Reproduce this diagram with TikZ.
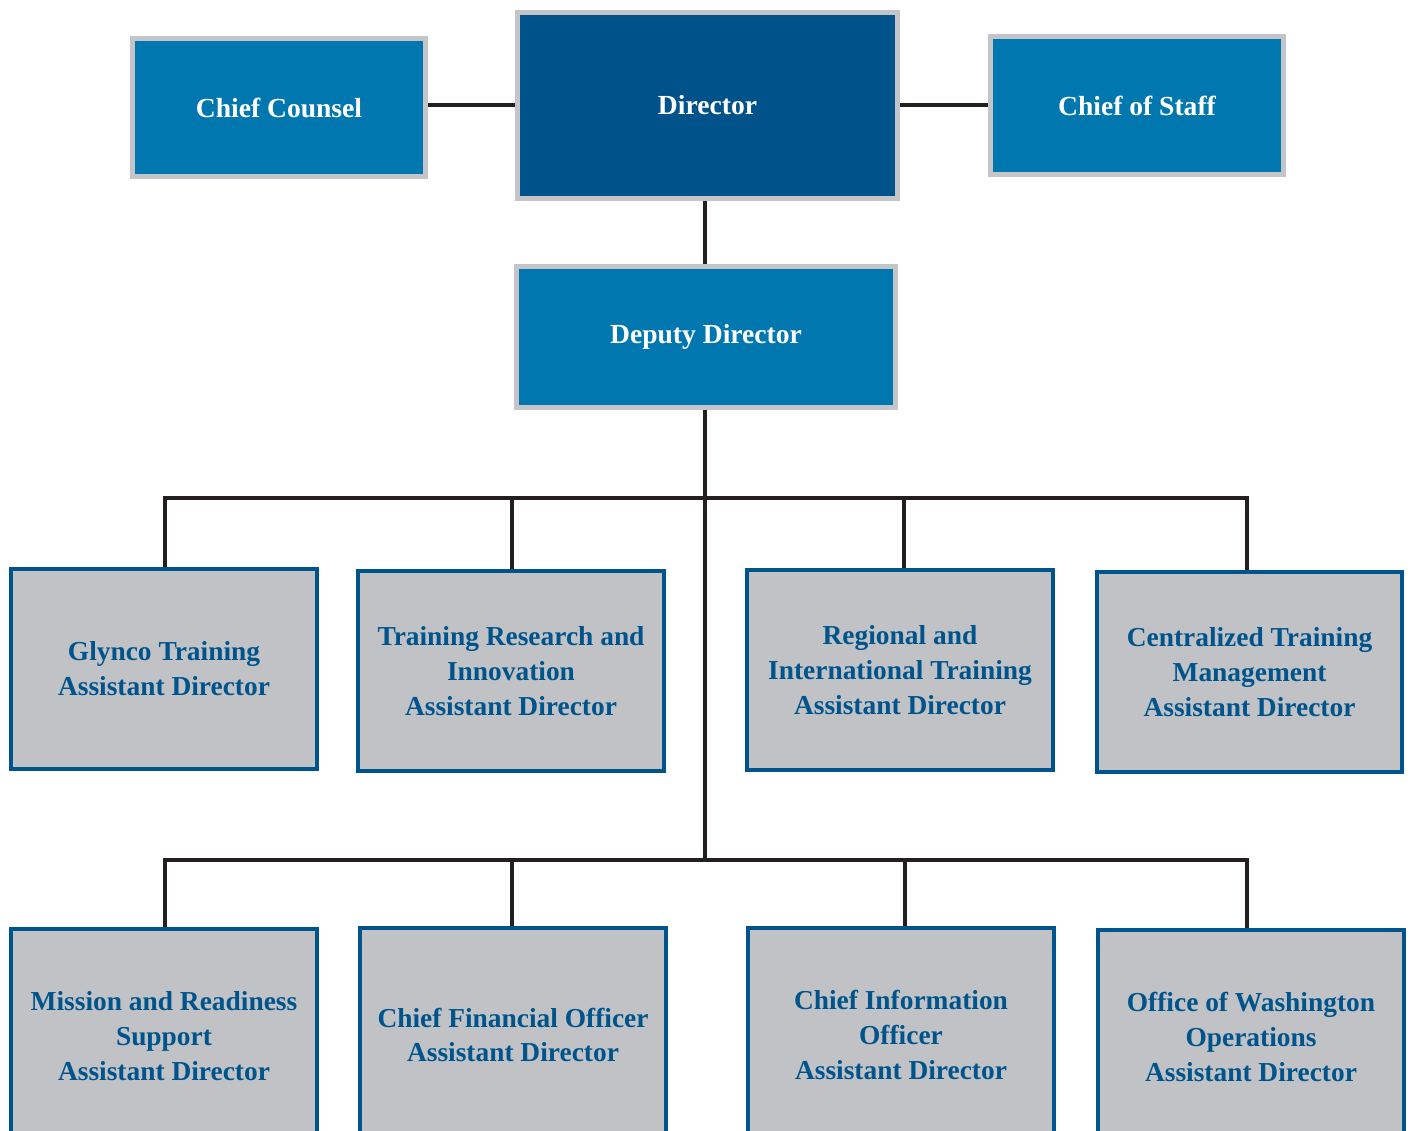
\documentclass[tikz,border=0pt]{standalone}
\usepackage{fontspec}
\setmainfont{Liberation Serif}
\usepackage{tikz}
\usetikzlibrary{calc}
\definecolor{topblue}{RGB}{0,119,174}
\definecolor{dirblue}{RGB}{0,82,138}
\definecolor{frame}{RGB}{196,197,201}
\definecolor{lowfill}{RGB}{193,194,198}
\definecolor{lowblue}{RGB}{0,84,140}
\definecolor{linecol}{RGB}{35,31,32}

\begin{document}
\begin{tikzpicture}[x=0.02cm, y=-0.02cm,
		topbox/.style={rectangle, draw=frame, line width=0.1cm, fill=topblue, text=white, font=\bfseries\fontsize{15.7}{20}\selectfont, align=center, minimum width=5.86cm, minimum height=2.76cm},
		lowbox/.style={rectangle, draw=lowblue, line width=0.08cm, fill=lowfill, text=lowblue, font=\bfseries\fontsize{15.6}{19.9}\selectfont, align=center, minimum width=6.12cm, minimum height=4cm},
		cutbox/.style={lowbox, minimum height=4.3cm},
		link/.style={draw=linecol, line width=0.08cm}]
		%%%%% START %%%%%
		
		\useasboundingbox (0, 0) rectangle (1411, 1131);
		\clip (0, 0) rectangle (1411, 1131);
		
		% top row
		\node[topbox] (counsel) at (279, 107.5) {Chief Counsel};
		\node[topbox, fill=dirblue, minimum width=7.6cm, minimum height=3.72cm] (director) at (707.5, 105.5) {Director};
		\node[topbox] (staff) at (1137, 105.5) {Chief of Staff};
		\node[topbox, minimum width=7.58cm, minimum height=2.82cm] (deputy) at (706, 337) {Deputy Director};
		
		\draw[link] (director.west |- 0, 105) -- (counsel.east |- 0, 105);
		\draw[link] (director.east |- 0, 105) -- (staff.west |- 0, 105);
		\draw[link] (705, 0 |- director.south) -- (705, 0 |- deputy.north);
		
		% assistant directors, first row
		\node[lowbox] (glynco) at (164, 669) {Glynco Training\\Assistant Director};
		\node[lowbox] (research) at (511, 671) {Training Research and\\Innovation\\Assistant Director};
		\node[lowbox] (regional) at (900, 670) {Regional and\\International Training\\Assistant Director};
		\node[lowbox] (central) at (1249.5, 672) {Centralized Training\\Management\\Assistant Director};
		
		% assistant directors, second row (cut off at the bottom)
		\node[cutbox] (mission) at (164, 1036) {Mission and Readiness\\Support\\Assistant Director};
		\node[cutbox] (finance) at (513, 1035) {Chief Financial Officer\\Assistant Director};
		\node[cutbox] (info) at (901, 1035) {Chief Information\\Officer\\Assistant Director};
		\node[cutbox] (washington) at (1251, 1037) {Office of Washington\\Operations\\Assistant Director};
		
		\coordinate (busa) at (705, 498);
		\coordinate (busb) at (705, 860);
		
		\draw[link] (705, 0 |- deputy.south) -- (busb);
		
		\draw[link] (165, 0 |- glynco.north) |- (busa) -| (1247, 0 |- central.north);
		\draw[link] (512, 0 |- research.north) -- (512, 0 |- busa);
		\draw[link] (904, 0 |- regional.north) -- (904, 0 |- busa);
		
		\draw[link] (165, 0 |- mission.north) |- (busb) -| (1247, 0 |- washington.north);
		\draw[link] (512, 0 |- finance.north) -- (512, 0 |- busb);
		\draw[link] (905, 0 |- info.north) -- (905, 0 |- busb);
		
		%%%%% END %%%%%
	\end{tikzpicture}
\end{document}
